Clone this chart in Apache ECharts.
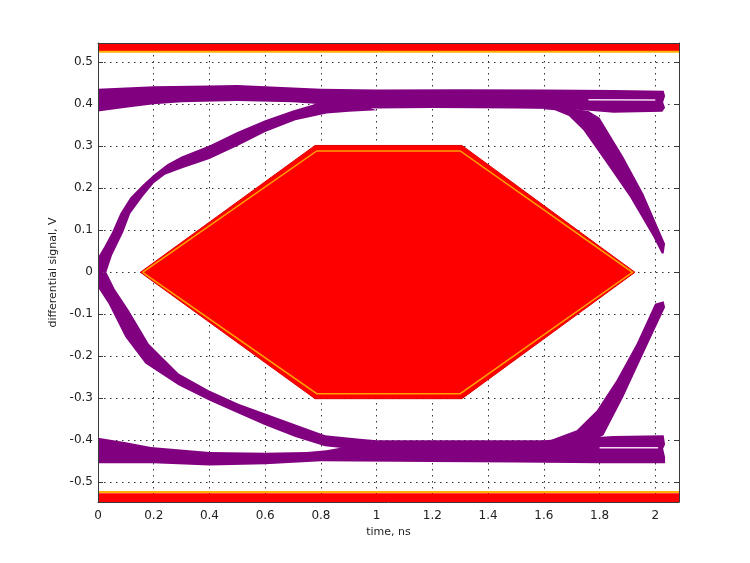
<!DOCTYPE html>
<html><head><meta charset="utf-8">
<script src="https://cdn.jsdelivr.net/npm/echarts@6/dist/echarts.min.js"></script>
<style>html,body{margin:0;padding:0;background:#fff}#c{width:750px;height:563px}</style>
</head><body><div id="c"></div>
<script>
// axis ranges and tick labels
const xRange = [0, 2.085];
const yRange = [-0.547, 0.546];
const xTicks = [0, 0.2, 0.4, 0.6, 0.8, 1, 1.2, 1.4, 1.6, 1.8, 2];
const yTicks = [-0.5, -0.4, -0.3, -0.2, -0.1, 0, 0.1, 0.2, 0.3, 0.4, 0.5];

// eye-diagram trace envelopes: [time ns, signal V]
const upperRail = [[0,0.437],[0.1,0.44],[0.2,0.443],[0.4,0.445],[0.5,0.446],[0.6,0.443],[0.8,0.437],[1.0,0.435],[1.3,0.436],[1.6,0.435],[1.85,0.434],[2.03,0.432],[2.035,0.42],[2.028,0.405],[2.035,0.392],[2.025,0.382],
  [1.85,0.38],[1.7,0.388],[1.5,0.39],[1.2,0.391],[1.0,0.39],[0.9,0.393],[0.8,0.4],[0.7,0.405],[0.5,0.408],[0.3,0.405],[0.2,0.4],[0.1,0.392],[0,0.383]];
const upperCross = [[0,0],[0,0.036],[0.022,0.06],[0.05,0.095],[0.08,0.14],[0.116,0.178],[0.16,0.208],[0.2,0.232],[0.25,0.258],[0.3,0.276],[0.4,0.302],[0.5,0.334],[0.6,0.362],[0.7,0.385],[0.8,0.405],[0.9,0.41],
  [1.0,0.386],[0.9,0.382],[0.82,0.378],[0.708,0.362],[0.6,0.334],[0.504,0.302],[0.4,0.27],[0.3,0.247],[0.24,0.232],[0.2,0.212],[0.16,0.18],[0.116,0.14],[0.09,0.095],[0.05,0.04],[0.03,0]];
const upperFall = [[1.6,0.39],[1.7,0.39],[1.76,0.384],[1.8,0.368],[1.885,0.275],[1.957,0.187],[2.035,0.068],[2.03,0.045],
  [2.023,0.045],[1.993,0.084],[1.909,0.179],[1.826,0.259],[1.742,0.338],[1.69,0.372],[1.64,0.386],[1.6,0.388]];
const lowerRail = [[0,-0.394],[0.1,-0.405],[0.19,-0.416],[0.4,-0.428],[0.6,-0.43],[0.75,-0.428],[0.82,-0.424],[0.9,-0.414],[1.0,-0.4],[1.3,-0.4],[1.6,-0.4],[1.85,-0.39],[2.03,-0.388],[2.035,-0.41],[2.028,-0.42],[2.035,-0.44],[2.035,-0.455],
  [1.8,-0.455],[1.5,-0.453],[1.2,-0.452],[0.8,-0.45],[0.6,-0.457],[0.4,-0.46],[0.2,-0.455],[0,-0.455]];
const lowerCross = [[0,0],[0,-0.036],[0.038,-0.075],[0.098,-0.154],[0.17,-0.217],[0.289,-0.269],[0.397,-0.305],[0.504,-0.336],[0.6,-0.364],[0.708,-0.392],[0.815,-0.414],[0.9,-0.42],
  [1.0,-0.4],[0.93,-0.396],[0.815,-0.388],[0.6,-0.336],[0.504,-0.313],[0.397,-0.281],[0.289,-0.241],[0.182,-0.17],[0.11,-0.09],[0.06,-0.04],[0.03,0]];
const lowerRise = [[1.75,-0.41],[1.814,-0.388],[1.885,-0.297],[1.957,-0.194],[2.035,-0.083],[2.03,-0.069],
  [1.999,-0.075],[1.933,-0.17],[1.861,-0.257],[1.79,-0.329],[1.718,-0.376],[1.622,-0.4],[1.55,-0.41]];
const upperGap = [[1.76,0.411],[2.0,0.41]];
const lowerGap = [[1.8,-0.418],[2.01,-0.418]];

// eye mask
const maskOuter = [[0.152,0],[0.779,0.302],[1.306,0.302],[1.927,0],[1.306,-0.301],[0.779,-0.301]];
const maskInner = [[0.16,0],[0.785,0.289],[1.3,0.289],[1.918,0],[1.3,-0.289],[0.785,-0.289],[0.16,0]];
const topBand = [[0,0.527],[2.085,0.527],[2.085,0.546],[0,0.546]];
const botBand = [[0,-0.526],[2.085,-0.526],[2.085,-0.547],[0,-0.547]];
const topBandEdge = [[0,0.525],[2.085,0.525]];
const botBandEdge = [[0,-0.523],[2.085,-0.523]];

const PURPLE = '#800080';
function shape(points, style, z, kind) {
  return {
    type: 'custom', coordinateSystem: 'cartesian2d', xAxisIndex: 0, yAxisIndex: 0,
    clip: true, silent: true, z: z, data: points, encode: {x: 0, y: 1},
    renderItem: function (params, api) {
      if (params.dataIndex !== 0) return null;
      return {type: kind || 'polygon', shape: {points: points.map(p => api.coord(p))}, style: style};
    }
  };
}
const font = 'DejaVu Sans';
const lineC = '#3a3a3a';
const chart = echarts.init(document.getElementById('c'), null, {renderer: 'canvas'});
chart.setOption({
  animation: false,
  backgroundColor: '#fff',
  grid: {left: 98, right: 71, top: 43, bottom: 61},
  xAxis: [
    {type: 'value', min: xRange[0], max: xRange[1], position: 'bottom',
      axisLine: {show: false, onZero: false}, axisTick: {show: true, inside: true, length: 5, customValues: xTicks, lineStyle: {color: lineC}},
      axisLabel: {customValues: xTicks, fontFamily: font, fontSize: 12, color: '#222', margin: 8},
      splitLine: {show: true, lineStyle: {type: [1.5, 4.5], color: '#333', width: 1}},
      name: 'time, ns', nameLocation: 'middle', nameGap: 24,
      nameTextStyle: {fontFamily: font, fontSize: 11, color: '#222'}},
    {type: 'value', min: xRange[0], max: xRange[1], position: 'top', z: 10,
      axisLine: {show: true, onZero: false, lineStyle: {color: lineC}}, axisTick: {show: false}, axisLabel: {show: false}, splitLine: {show: false}},
    {type: 'value', min: xRange[0], max: xRange[1], position: 'bottom', z: 10,
      axisLine: {show: true, onZero: false, lineStyle: {color: lineC}}, axisTick: {show: false}, axisLabel: {show: false}, splitLine: {show: false}}
  ],
  yAxis: [
    {type: 'value', min: yRange[0], max: yRange[1], position: 'left',
      axisLine: {show: false, onZero: false}, axisTick: {show: true, inside: true, length: 5, customValues: yTicks, lineStyle: {color: lineC}},
      axisLabel: {customValues: yTicks, fontFamily: font, fontSize: 12, color: '#222', margin: 5},
      splitLine: {show: true, lineStyle: {type: [1.5, 4.5], color: '#333', width: 1}},
      name: 'differential signal, V', nameLocation: 'middle', nameGap: 31,
      nameTextStyle: {fontFamily: font, fontSize: 11, color: '#222'}},
    {type: 'value', min: yRange[0], max: yRange[1], position: 'right', z: 10,
      axisLine: {show: true, onZero: false, lineStyle: {color: lineC}}, axisTick: {show: true, inside: true, length: 4, customValues: yTicks, lineStyle: {color: lineC}},
      axisLabel: {show: false}, splitLine: {show: false}},
    {type: 'value', min: yRange[0], max: yRange[1], position: 'left', z: 10,
      axisLine: {show: true, onZero: false, lineStyle: {color: lineC}}, axisTick: {show: false}, axisLabel: {show: false}, splitLine: {show: false}}
  ],
  series: [
    shape(topBand, {fill: '#ff0000'}, 2),
    shape(botBand, {fill: '#ff0000'}, 2),
    shape(topBandEdge, {stroke: '#ffb300', fill: null, lineWidth: 2}, 3, 'polyline'),
    shape(botBandEdge, {stroke: '#ffb300', fill: null, lineWidth: 2}, 3, 'polyline'),
    shape(upperRail, {fill: PURPLE}, 4),
    shape(upperCross, {fill: PURPLE}, 4),
    shape(upperFall, {fill: PURPLE}, 4),
    shape(lowerRail, {fill: PURPLE}, 4),
    shape(lowerCross, {fill: PURPLE}, 4),
    shape(lowerRise, {fill: PURPLE}, 4),
    shape(upperGap, {stroke: '#f4d8f4', fill: null, lineWidth: 1.5}, 5, 'polyline'),
    shape(lowerGap, {stroke: '#f4d8f4', fill: null, lineWidth: 1.5}, 5, 'polyline'),
    shape(maskOuter, {fill: '#ff0000', stroke: '#e00000', lineWidth: 1}, 6),
    shape(maskInner, {stroke: '#ffa000', fill: null, lineWidth: 1.5}, 7, 'polyline')
  ]
});
</script></body></html>
